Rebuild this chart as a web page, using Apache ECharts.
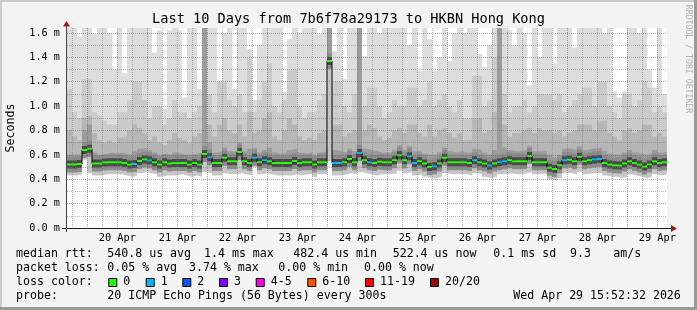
<!DOCTYPE html>
<html><head><meta charset="utf-8">
<script src="https://cdn.jsdelivr.net/npm/echarts@6/dist/echarts.min.js"></script>
<style>html,body{margin:0;padding:0;background:#f3f3f3;}#c{width:697px;height:310px;}</style>
</head><body><div id="c"></div>
<script>
// ---------------- data ----------------
const chartTitle = 'Last 10 Days from 7b6f78a29173 to HKBN Hong Kong';
const yAxisName = 'Seconds';
const watermark = 'RRDTOOL / TOBI OETIKER';
const periodStart = Date.UTC(2026, 3, 19, 15, 52, 32);
const periodEnd = Date.UTC(2026, 3, 29, 15, 52, 32);
const binHours = 2;
const dayLabels = ['20 Apr','21 Apr','22 Apr','23 Apr','24 Apr','25 Apr','26 Apr','27 Apr','28 Apr','29 Apr'];
const firstDay = Date.UTC(2026, 3, 20);
const yMajorTicks = [0, 0.2, 0.4, 0.6, 0.8, 1.0, 1.2, 1.4, 1.6];
const yMinorTicks = [0.1, 0.3, 0.5, 0.7, 0.9, 1.1, 1.3, 1.5];
const yMax = 1.641;

// median rtt per 2h bin (ms)
const median = [
0.52,0.52,0.525,0.64,0.65,0.53,0.529,0.538,0.54,0.54,
0.54,0.534,0.52,0.525,0.55,0.562,0.556,0.54,0.52,0.54,
0.529,0.534,0.534,0.534,0.52,0.534,0.52,0.608,0.58,0.534,
0.534,0.576,0.548,0.548,0.624,0.548,0.534,0.576,0.54,0.556,
0.548,0.534,0.534,0.534,0.534,0.55,0.534,0.54,0.54,0.52,
0.54,0.54,1.37,0.534,0.534,0.54,0.567,0.54,0.616,0.556,
0.54,0.534,0.544,0.54,0.54,0.556,0.597,0.556,0.589,0.534,
0.548,0.529,0.50,0.507,0.529,0.576,0.54,0.54,0.54,0.54,
0.534,0.556,0.54,0.529,0.512,0.529,0.54,0.548,0.556,0.548,
0.548,0.548,0.59,0.54,0.54,0.54,0.495,0.485,0.515,0.556,
0.56,0.548,0.585,0.548,0.556,0.562,0.567,0.534,0.52,0.515,
0.512,0.529,0.548,0.534,0.52,0.505,0.52,0.548,0.534,0.54];
// lost pings (of 20) per bin
const loss = [
0,0,0,0,0,0,0,0,0,0, 0,0,0,1,0,0,1,0,0,0,
0,0,0,0,0,0,0,0,1,0, 0,0,0,0,0,0,0,1,0,1,
0,0,0,0,0,0,0,0,0,0, 0,0,0,1,1,0,0,0,1,0,
1,0,0,0,0,0,0,0,1,1, 0,0,0,1,0,0,0,0,0,0,
0,1,0,0,1,0,1,1,0,0, 0,0,0,0,0,0,0,0,0,1,
0,0,0,0,0,1,1,0,0,0, 0,0,0,0,0,0,0,0,0,0];
// smoke bands (ms): outer max, upper, middle, dark core, bottom
const smokeTop = [
1.8,1.8,1.57,1.8,1.8,1.59,1.8,1.8,1.6,1.3,
1.8,1.27,1.8,1.8,1.8,1.8,1.8,1.44,1.62,0.98,
1.62,1.8,1.62,1.07,1.8,1.8,1.14,1.8,1.8,1.8,
1.2,1.6,1.8,1.14,1.8,1.8,1.47,1.05,1.5,1.8,
1.8,1.8,1.8,1.12,1.55,1.8,1.6,1.8,1.8,1.8,
1.59,1.8,1.8,1.45,1.8,1.22,1.8,1.8,1.8,1.41,
1.8,1.8,1.6,1.8,1.8,1.8,1.8,1.8,1.5,1.8,
1.29,1.8,1.55,1.29,1.4,1.8,1.37,1.6,1.8,1.6,
1.8,1.8,1.43,1.32,1.5,1.8,1.8,1.8,1.62,1.5,
1.8,1.6,1.17,1.8,1.4,1.8,1.8,1.35,1.8,1.8,
1.8,1.48,1.8,1.8,1.8,1.8,1.8,1.6,1.8,1.12,
1.07,1.12,1.8,1.8,1.6,1.8,1.3,1.15,1.8,1.1];
const smokeUpper = [
1.14,0.95,0.9,1.22,1.22,0.95,0.92,0.88,0.85,0.85,
0.95,0.95,1.05,1.2,1.2,1.05,0.9,1.0,1.0,0.85,
0.9,1.05,0.95,0.95,0.9,0.95,1.0,1.5,1.1,0.95,
1.2,1.2,1.05,1.0,1.1,0.95,1.4,0.95,1.05,1.2,
1.35,1.0,0.95,1.05,1.3,1.3,1.0,0.9,0.95,0.95,
1.05,1.1,1.5,1.2,1.2,1.0,0.95,1.1,1.4,1.0,
1.15,1.15,1.0,0.9,0.95,1.05,1.0,1.0,1.15,1.15,
1.0,1.05,1.2,1.0,1.05,1.1,1.0,0.95,1.05,0.9,
0.9,1.25,1.25,1.0,1.05,1.4,1.4,1.1,0.95,1.0,
1.0,1.05,0.95,1.0,1.1,1.1,1.1,1.05,1.1,0.95,
1.0,1.05,1.1,1.15,1.15,1.0,1.2,1.2,1.0,0.95,
0.9,1.1,1.1,1.0,1.05,1.2,1.15,0.95,1.0,0.95];
const smokeMid = [
0.8,0.75,0.72,0.9,0.92,0.78,0.72,0.7,0.72,0.7,
0.74,0.75,0.8,0.85,0.82,0.78,0.72,0.75,0.7,0.68,
0.72,0.78,0.74,0.72,0.7,0.75,0.78,1.2,0.85,0.75,
0.85,0.9,0.8,0.78,0.85,0.75,0.95,0.78,0.8,0.9,
0.95,0.75,0.72,0.8,0.9,0.85,0.75,0.72,0.74,0.72,
0.78,0.8,1.3,0.85,0.85,0.75,0.78,0.8,1.1,0.8,
0.85,0.82,0.75,0.72,0.74,0.8,0.82,0.78,0.85,0.85,
0.78,0.75,0.85,0.75,0.8,0.82,0.78,0.74,0.78,0.72,
0.72,0.9,0.9,0.78,0.8,0.95,1.1,0.85,0.75,0.78,
0.78,0.8,0.82,0.78,0.82,0.8,0.8,0.78,0.8,0.75,
0.78,0.8,0.85,0.85,0.85,0.8,0.88,0.88,0.78,0.75,
0.72,0.8,0.82,0.78,0.8,0.85,0.85,0.75,0.78,0.75];
const smokeDark = [
0.6,0.6,0.6,0.8,0.85,0.62,0.6,0.61,0.62,0.61,
0.62,0.61,0.6,0.63,0.65,0.66,0.64,0.62,0.6,0.61,
0.6,0.62,0.61,0.6,0.6,0.61,0.62,1.8,0.7,0.62,
0.63,0.66,0.63,0.63,0.7,0.63,0.65,0.66,0.62,0.64,
0.66,0.62,0.61,0.62,0.64,0.65,0.62,0.61,0.62,0.6,
0.62,0.63,1.8,0.64,0.63,0.62,0.65,0.63,1.8,0.65,
0.64,0.63,0.62,0.62,0.62,0.64,0.68,0.64,0.67,0.63,
0.63,0.61,0.6,0.6,0.62,0.66,0.63,0.62,0.63,0.62,
0.62,0.65,0.64,0.62,0.6,0.64,1.8,0.66,0.64,0.63,
0.63,0.64,0.67,0.63,0.63,0.63,0.6,0.58,0.6,0.65,
0.65,0.64,0.67,0.64,0.65,0.65,0.66,0.63,0.61,0.6,
0.6,0.62,0.64,0.62,0.61,0.6,0.61,0.64,0.62,0.62];
const smokeLow = [
0.43,0.43,0.44,0.56,0.45,0.43,0.43,0.44,0.44,0.44,
0.44,0.43,0.42,0.43,0.45,0.46,0.45,0.44,0.42,0.43,
0.43,0.43,0.44,0.43,0.42,0.43,0.42,0.46,0.45,0.43,
0.43,0.45,0.44,0.44,0.45,0.44,0.43,0.5,0.44,0.45,
0.44,0.43,0.43,0.43,0.43,0.44,0.43,0.44,0.44,0.42,
0.44,0.44,0.55,0.43,0.43,0.44,0.45,0.44,0.46,0.45,
0.44,0.43,0.44,0.44,0.44,0.45,0.47,0.45,0.46,0.43,
0.44,0.42,0.41,0.41,0.42,0.45,0.44,0.44,0.44,0.44,
0.43,0.45,0.44,0.42,0.41,0.42,0.44,0.44,0.45,0.44,
0.44,0.45,0.46,0.44,0.44,0.44,0.4,0.39,0.41,0.45,
0.45,0.44,0.46,0.44,0.45,0.45,0.45,0.43,0.42,0.42,
0.41,0.42,0.44,0.43,0.42,0.41,0.42,0.44,0.43,0.44];

// legend / stats text
const rttLabel = 'median rtt:';
const rttStats = ['540.8 us avg','1.4 ms max','482.4 us min','522.4 us now','0.1 ms sd','9.3','am/s'];
const lossLabel = 'packet loss:';
const lossStats = ['0.05 % avg','3.74 % max','0.00 % min','0.00 % now'];
const lossColorLabel = 'loss color:';
const lossBuckets = [
  {label:'0', max:0, color:'#26ff00'},
  {label:'1', max:1, color:'#00b8ff'},
  {label:'2', max:2, color:'#0059ff'},
  {label:'3', max:3, color:'#7e00ff'},
  {label:'4-5', max:5, color:'#ff00ea'},
  {label:'6-10', max:10, color:'#ff5500'},
  {label:'11-19', max:19, color:'#ff0000'},
  {label:'20/20', max:20, color:'#a10000'}];
const probeLabel = 'probe:';
const probeText = '20 ICMP Echo Pings (56 Bytes) every 300s';
const stampText = 'Wed Apr 29 15:52:32 2026';

// ---------------- layout (pixels, styling) ----------------
const MONO = '"DejaVu Sans Mono", "Liberation Mono", monospace';
const legendFont = '11.6px ' + MONO;
const rttX = [107.3, 204, 293.3, 392.7, 493.3, 570, 613.3];
const lossX = [107.3, 189, 278.3, 364];
const boxX = [108.3, 145.7, 182.3, 219, 255.7, 307.3, 365, 430];
const lineY = [254.2, 268.2, 282.2, 295.8];

// ---------------- build ----------------
const H = 3600e3, DAY = 24 * H;
const binStart = i => Math.min(periodStart + i * binHours * H, periodEnd);
const midnights = dayLabels.map((_, k) => firstDay + k * DAY);
const noons = dayLabels.map((_, k) => firstDay + k * DAY + 12 * H);
const minorX = [];
for (let t = firstDay - DAY; t <= periodEnd; t += 6 * H) {
  if (t >= periodStart && (t - firstDay) % DAY !== 0) minorX.push(t);
}
function stepData(arr) {
  const d = arr.map((v, i) => [binStart(i), v]);
  d.push([periodEnd, arr[arr.length - 1]]);
  return d;
}
function areaSeries(arr, color) {
  return {type:'line', step:'end', data:stepData(arr), symbol:'none', silent:true,
    lineStyle:{width:0}, areaStyle:{color:color, opacity:1}, animation:false};
}
function segSeries(arr, keep, color, width, opacity) {
  const d = [];
  arr.forEach((v, i) => {
    if (!keep(i)) return;
    d.push([binStart(i), v], [binStart(i + 1), v], [binStart(i + 1), '-']);
  });
  return {type:'line', data:d, symbol:'none', silent:true, connectNulls:false, animation:false,
    lineStyle:{color:color, width:width, opacity:opacity, cap:'butt'}};
}
function bucketOf(l) { for (let b = 0; b < lossBuckets.length; b++) if (l <= lossBuckets[b].max) return b; return lossBuckets.length - 1; }

const series = [
  areaSeries(smokeTop, '#dddddd'),
  areaSeries(smokeUpper, '#cbcbcb'),
  areaSeries(smokeMid, '#b6b6b6'),
  areaSeries(smokeDark, '#9c9c9c'),
  areaSeries(median, '#c6c6c6'),
  areaSeries(smokeLow, '#ffffff'),
  segSeries(median, () => true, '#8c8c8c', 16, 1),
  segSeries(median, () => true, '#4a4a4a', 8, 1),
  {type:'line', step:'end', data:stepData(median), symbol:'none', silent:true, animation:false,
    lineStyle:{color:'#000000', width:1}}
];
lossBuckets.forEach((b, bi) => {
  if (loss.some(l => bucketOf(l) === bi)) series.push(segSeries(median, i => bucketOf(loss[i]) === bi, b.color, 2, 1));
});

const gridRed = {color:'rgba(225,50,50,0.55)', width:1, type:[1,1]};
const gridGray = {color:'rgba(120,120,120,0.55)', width:1, type:[1,1]};

const g = [];
function txt(x, y, s, font, extra) {
  g.push(Object.assign({type:'text', x:x, y:y, silent:true,
    style:{text:s, font:font, fill:'#000', textAlign:'left', textVerticalAlign:'middle'}}, extra || {}));
}
// frame
g.push({type:'rect', shape:{x:0, y:0, width:697, height:2}, style:{fill:'#cbcbcb'}, silent:true});
g.push({type:'rect', shape:{x:0, y:0, width:2, height:310}, style:{fill:'#cbcbcb'}, silent:true});
g.push({type:'rect', shape:{x:694, y:0, width:3, height:310}, style:{fill:'#9a9a9a'}, silent:true});
g.push({type:'rect', shape:{x:0, y:307, width:697, height:3}, style:{fill:'#9a9a9a'}, silent:true});
// axes lines and arrows
g.push({type:'line', shape:{x1:62, y1:228.5, x2:671, y2:228.5}, style:{stroke:'#222', lineWidth:1}, z:20, silent:true});
g.push({type:'line', shape:{x1:66.5, y1:232, x2:66.5, y2:26}, style:{stroke:'#444', lineWidth:1}, z:20, silent:true});
g.push({type:'polygon', shape:{points:[[63,26.5],[70,26.5],[66.5,21]]}, style:{fill:'#a01818'}, z:21, silent:true});
g.push({type:'polygon', shape:{points:[[671,225],[671,232],[677,228.5]]}, style:{fill:'#a01818'}, z:21, silent:true});
// titles
g.push({type:'text', x:348.5, y:19.5, silent:true, style:{text:chartTitle, font:'13.6px ' + MONO, fill:'#000', textAlign:'center', textVerticalAlign:'middle'}});
g.push({type:'text', x:11, y:128, rotation:Math.PI / 2, silent:true, style:{text:yAxisName, font:legendFont, fill:'#000', textAlign:'center', textVerticalAlign:'middle'}});
g.push({type:'text', x:688.5, y:59, rotation:-Math.PI / 2, silent:true, style:{text:watermark, font:'8.2px ' + MONO, fill:'#b0b0b0', textAlign:'center', textVerticalAlign:'middle'}});
// legend lines
txt(16, lineY[0], rttLabel, legendFont);
rttStats.forEach((s, k) => txt(rttX[k], lineY[0], s, legendFont));
txt(16, lineY[1], lossLabel, legendFont);
lossStats.forEach((s, k) => txt(lossX[k], lineY[1], s, legendFont));
txt(16, lineY[2], lossColorLabel, legendFont);
lossBuckets.forEach((b, k) => {
  g.push({type:'rect', shape:{x:boxX[k] + 0.5, y:278.5, width:8, height:8}, style:{fill:b.color, stroke:'#000', lineWidth:1}, silent:true});
  txt(boxX[k] + 15, lineY[2], b.label, legendFont);
});
txt(16, lineY[3], probeLabel, legendFont);
txt(107.3, lineY[3], probeText, legendFont);
txt(513.3, lineY[3], stampText, legendFont);

const chart = echarts.init(document.getElementById('c'), null, {renderer:'canvas'});
chart.setOption({
  backgroundColor:'#f3f3f3',
  animation:false,
  grid:{left:67, top:28, width:600, height:200, show:true, backgroundColor:'#ffffff', borderWidth:0},
  xAxis:[
    {type:'value', min:periodStart, max:periodEnd, z:10,
     axisLine:{show:false}, axisTick:{show:false, customValues:midnights},
     splitLine:{show:true, lineStyle:gridRed},
     axisLabel:{customValues:noons, margin:5, color:'#000', fontFamily:MONO, fontSize:10.3,
       formatter:v => dayLabels[Math.round((v - firstDay - 12 * H) / DAY)]}},
    {type:'value', min:periodStart, max:periodEnd, z:9,
     axisLine:{show:false}, axisTick:{show:false, customValues:minorX}, axisLabel:{show:false},
     splitLine:{show:true, lineStyle:gridGray}}
  ],
  yAxis:[
    {type:'value', min:0, max:yMax, interval:0.2, z:10,
     axisLine:{show:false}, axisTick:{show:false, customValues:yMajorTicks},
     splitLine:{show:true, lineStyle:gridRed},
     axisLabel:{customValues:yMajorTicks, margin:7, color:'#000', fontFamily:MONO, fontSize:10.2,
       formatter:v => v.toFixed(1) + ' m'}},
    {type:'value', min:0, max:yMax, z:9,
     axisLine:{show:false}, axisTick:{show:false, customValues:yMinorTicks}, axisLabel:{show:false},
     splitLine:{show:true, lineStyle:gridGray}}
  ],
  series:series,
  graphic:{elements:g}
});
</script></body></html>
